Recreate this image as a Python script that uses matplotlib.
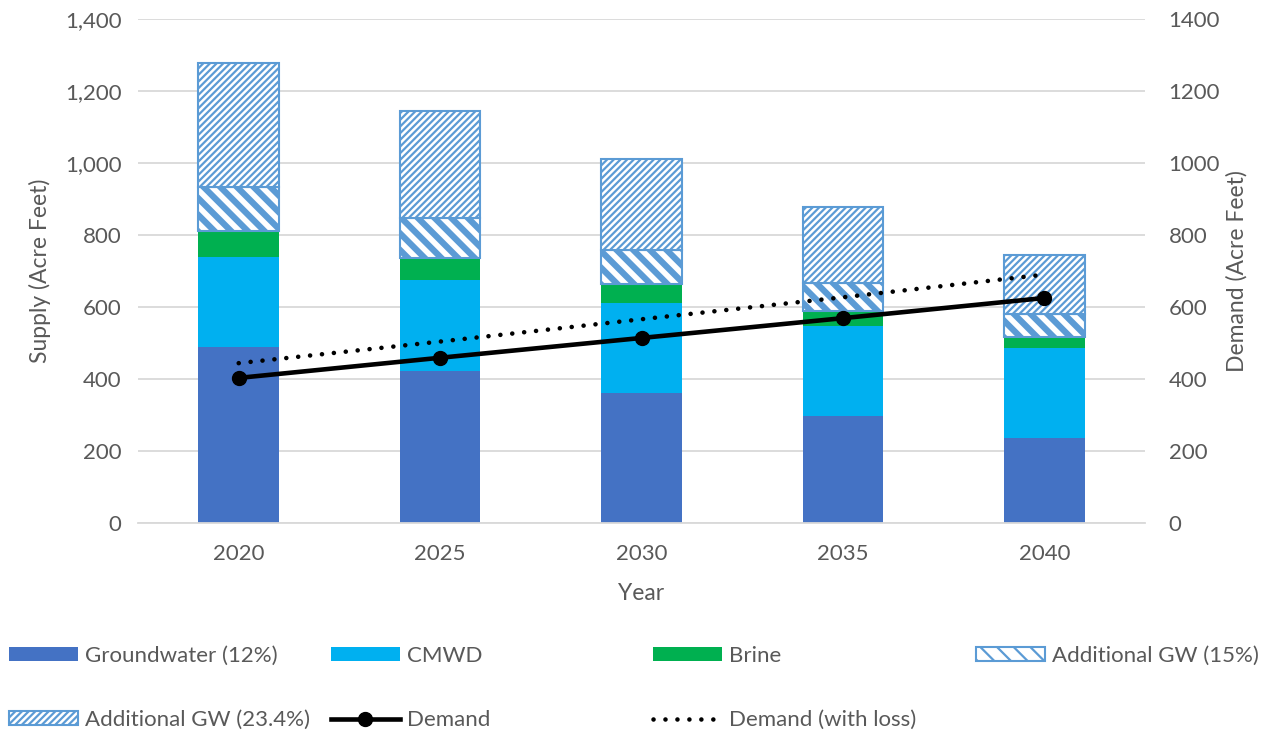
import matplotlib
matplotlib.use("Agg")
import matplotlib.pyplot as plt
from matplotlib.ticker import FuncFormatter, MultipleLocator
from matplotlib.patches import Patch
from matplotlib.lines import Line2D
import numpy as np

years = ["2020", "2025", "2030", "2035", "2040"]
groundwater = [489, 422, 361, 297, 236]
cmwd = [250, 253, 250, 250, 250]
brine = [72, 61, 53, 42, 31]
add_gw_15 = [122, 111, 94, 78, 64]
add_gw_234 = [345, 297, 253, 211, 163]
demand = [403, 459, 514, 569, 625]
demand_loss = [444, 504, 566, 627, 690]

C_GW = "#4472C4"
C_CMWD = "#00B0F0"
C_BRINE = "#00B050"
C_HATCH = "#5B9BD5"
TXT = "#595959"
GRID = "#D9D9D9"

WIDE = "\\\\"
DENSE = "/////"
WIDE_LW = 4.5
DENSE_LW = 1.6

plt.rcParams["font.family"] = ["Lato", "DejaVu Sans"]
plt.rcParams["font.size"] = 16

fig = plt.figure(figsize=(12.61, 7.34), dpi=100)
ax = fig.add_axes([138 / 1261, 1 - 523 / 734, (1145 - 138) / 1261, (523 - 19) / 734])
ax2 = ax.twinx()

x = np.arange(len(years))
w = 0.4

ax.bar(x, groundwater, w, color=C_GW, linewidth=0, zorder=2)
b1 = np.array(groundwater)
ax.bar(x, cmwd, w, bottom=b1, color=C_CMWD, linewidth=0, zorder=2)
b2 = b1 + np.array(cmwd)
ax.bar(x, brine, w, bottom=b2, color=C_BRINE, linewidth=0, zorder=2)
b3 = b2 + np.array(brine)

def hatched(vals, bottom, pattern, hlw):
    bars = ax.bar(x, vals, w, bottom=bottom, color="white", edgecolor=C_HATCH,
                  hatch=pattern, linewidth=1.5, zorder=2)
    for p in bars:
        try:
            p.set_hatch_linewidth(hlw)
        except AttributeError:
            pass
    return bars

def hatch_patch(pattern, hlw):
    p = Patch(facecolor="white", edgecolor=C_HATCH, hatch=pattern, linewidth=1.5)
    try:
        p.set_hatch_linewidth(hlw)
    except AttributeError:
        pass
    return p

plt.rcParams["hatch.linewidth"] = WIDE_LW
hatched(add_gw_15, b3, WIDE, WIDE_LW)
b4 = b3 + np.array(add_gw_15)
plt.rcParams["hatch.linewidth"] = DENSE_LW
hatched(add_gw_234, b4, DENSE, DENSE_LW)

ax2.plot(x, demand, color="black", lw=3.3, marker="o", markersize=10, zorder=5)
ax2.plot(x, demand_loss, color="black", lw=3.3, linestyle=(0, (0.01, 2.6)),
         dash_capstyle="round", zorder=5)

for a in (ax, ax2):
    a.set_ylim(0, 1400)
    a.yaxis.set_major_locator(MultipleLocator(200))
    a.set_xlim(-0.5, 4.5)
    for s in a.spines.values():
        s.set_visible(False)
    a.tick_params(length=0, colors=TXT, labelsize=16)

ax.spines["bottom"].set_visible(True)
ax.spines["bottom"].set_color(GRID)
ax.spines["bottom"].set_linewidth(1.3)
ax.set_axisbelow(True)
ax.yaxis.grid(True, color=GRID, linewidth=1.3, zorder=0)
ax.yaxis.set_major_formatter(FuncFormatter(lambda v, p: f"{int(v):,}"))
ax2.yaxis.set_major_formatter(FuncFormatter(lambda v, p: f"{int(v)}"))
ax.set_xticks(x)
ax.set_xticklabels(years)
ax.tick_params(axis="y", pad=12)
ax.tick_params(axis="x", pad=15)
ax2.tick_params(axis="y", pad=17)

ax.set_ylabel("Supply (Acre Feet)", color=TXT, fontsize=16.5, labelpad=10)
ax2.set_ylabel("Demand (Acre Feet)", color=TXT, fontsize=16.5, labelpad=4)
ax.set_xlabel("Year", color=TXT, fontsize=16.5, labelpad=14)

entries = [
    (Patch(facecolor=C_GW, linewidth=0), "Groundwater (12%)", 9, 656),
    (Patch(facecolor=C_CMWD, linewidth=0), "CMWD", 331, 656),
    (Patch(facecolor=C_BRINE, linewidth=0), "Brine", 653, 656),
    (hatch_patch(WIDE, WIDE_LW), "Additional GW (15%)", 976, 656),
    (hatch_patch(DENSE, DENSE_LW), "Additional GW (23.4%)", 9, 720),
    (Line2D([], [], color="black", lw=3.3, marker="o", markersize=10), "Demand", 331, 720),
    (Line2D([], [], color="black", lw=3.3, linestyle=(0, (0.01, 2.6)), dash_capstyle="round"),
     "Demand (with loss)", 653, 720),
]
for h, lab, px, py in entries:
    leg = fig.legend([h], [lab], loc="center left",
                     bbox_to_anchor=(px / 1261, 1 - py / 734),
                     frameon=False, fontsize=16, handlelength=3.1, handleheight=0.55,
                     handletextpad=0.3, borderpad=0, borderaxespad=0)
    for t in leg.get_texts():
        t.set_color(TXT)

fig.savefig("out.png", dpi=100)
